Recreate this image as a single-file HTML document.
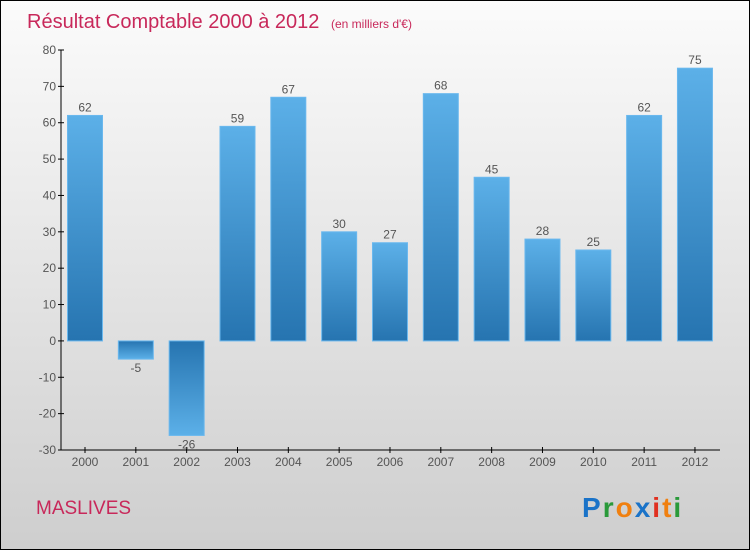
<!DOCTYPE html>
<html><head><meta charset="utf-8"><style>
body{margin:0}
#c{width:750px;height:550px;position:relative;overflow:hidden;box-sizing:border-box;border:1px solid #000;background:linear-gradient(#fbfbfb,#cecece);font-family:"Liberation Sans",sans-serif}
</style></head><body>
<div id="c">
<svg width="750" height="550" style="position:absolute;left:-1px;top:-1px">
<defs>
<linearGradient id="gp" x1="0" y1="0" x2="0" y2="1"><stop offset="0" stop-color="#5cb0e8"/><stop offset="1" stop-color="#2674b0"/></linearGradient>
<linearGradient id="gn" x1="0" y1="0" x2="0" y2="1"><stop offset="0" stop-color="#2674b0"/><stop offset="1" stop-color="#5cb0e8"/></linearGradient>
</defs>
<text x="27" y="28" font-size="20" fill="#c8285a">Résultat Comptable 2000 à 2012 <tspan font-size="12" dx="6">(en milliers d'€)</tspan></text>
<g id="axes"></g><g id="bars"></g>
<text x="36" y="514" font-size="19" fill="#c8285a">MASLIVES</text>
<text x="582" y="517" font-size="28" font-weight="bold" letter-spacing="2"><tspan fill="#1a73c8">P</tspan><tspan fill="#2a9a3a">r</tspan><tspan fill="#f08010">o</tspan><tspan fill="#1a73c8">x</tspan><tspan fill="#e03020">i</tspan><tspan fill="#f08010">t</tspan><tspan fill="#2a9a3a">i</tspan></text>
</svg>
</div>
<script>
const years=["2000","2001","2002","2003","2004","2005","2006","2007","2008","2009","2010","2011","2012"];
const values=[62,-5,-26,59,67,30,27,68,45,28,25,62,75];
const yTicks=[80,70,60,50,40,30,20,10,0,-10,-20,-30];
const NS="http://www.w3.org/2000/svg";
const y=v=>50+(80-v)*400/110;
const x=i=>85+i*50.83;
function mk(t,a,p){const e=document.createElementNS(NS,t);for(const k in a)e.setAttribute(k,a[k]);p.appendChild(e);return e;}
const ax=document.getElementById('axes'),bs=document.getElementById('bars');
let l=mk('line',{x1:61,y1:50,x2:61,y2:450,stroke:'#000'},ax);


l=mk('line',{x1:61,y1:450,x2:720,y2:450,stroke:'#000'},ax);


yTicks.forEach(v=>{mk('line',{x1:58,x2:64,y1:y(v),y2:y(v),stroke:'#000'},ax);
const t=mk('text',{x:56,y:y(v)+4,'font-size':12,fill:'#555','text-anchor':'end'},ax);t.textContent=v;

});
years.forEach((yr,i)=>{mk('line',{x1:x(i),x2:x(i),y1:447,y2:453,stroke:'#000'},ax);
const t=mk('text',{x:x(i),y:466,'font-size':12,fill:'#555','text-anchor':'middle'},ax);t.textContent=yr;


const v=values[i],top=Math.min(y(v),y(0)),h=Math.abs(y(v)-y(0));
const r=mk('rect',{x:x(i)-17.5,y:top,width:35,height:h,fill:v>=0?'url(#gp)':'url(#gn)',stroke:'#6ab8ee','stroke-width':1},bs);


const lb=mk('text',{x:x(i),y:v>=0?y(v)-4:y(v)+13,'font-size':12,fill:'#555','text-anchor':'middle'},bs);lb.textContent=v;

});
</script>
</body></html>
